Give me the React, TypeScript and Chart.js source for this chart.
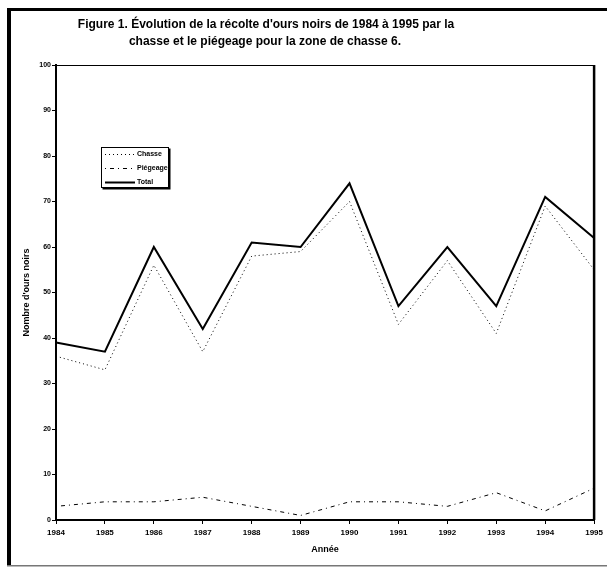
import React, { useEffect, useRef } from "react";
import { Chart, registerables } from "chart.js";

Chart.register(...registerables);

const years = ["1984", "1985", "1986", "1987", "1988", "1989", "1990", "1991", "1992", "1993", "1994", "1995"];
const chasse = [36, 33, 56, 37, 58, 59, 70, 43, 57, 41, 69, 55];
const piegeage = [3, 4, 4, 5, 3, 1, 4, 4, 3, 6, 2, 7];
const total = [39, 37, 60, 42, 61, 60, 74, 47, 60, 47, 71, 62];

const titleLines = [
  "Figure 1. Évolution de la récolte d'ours noirs de 1984 à 1995 par la",
  "chasse et le piégeage pour la zone de chasse 6.",
];
const yTitle = "Nombre d'ours noirs";
const xTitle = "Année";

const FONT = "'Liberation Sans', Arial, sans-serif";

const framePlugin = {
  id: "frame",
  afterDraw(chart: any) {
    const ctx = chart.ctx;
    const area = chart.chartArea;
    ctx.save();
    // outer scan frame
    ctx.fillStyle = "#000";
    ctx.fillRect(7, 8, 4, 558);
    ctx.fillRect(7, 8, 600, 3);
    ctx.fillStyle = "#777";
    ctx.fillRect(7, 565, 600, 1.5);
    // plot box top and right
    ctx.strokeStyle = "#000";
    ctx.lineWidth = 1.2;
    ctx.beginPath();
    ctx.moveTo(area.left, area.top + 0.5);
    ctx.lineTo(area.right, area.top + 0.5);
    ctx.stroke();
    ctx.lineWidth = 2.5;
    ctx.beginPath();
    ctx.moveTo(area.right, area.top);
    ctx.lineTo(area.right, area.bottom);
    ctx.stroke();
    // title
    ctx.fillStyle = "#000";
    ctx.font = "bold 12px " + FONT;
    ctx.textAlign = "center";
    ctx.textBaseline = "middle";
    ctx.fillText(titleLines[0], 266, 25);
    ctx.fillText(titleLines[1], 265, 42);
    // legend
    const bx = 101, by = 147, bw = 68, bh = 41;
    ctx.fillStyle = "#000";
    ctx.fillRect(bx + 1.5, by + 1.5, bw, bh);
    ctx.fillStyle = "#fff";
    ctx.fillRect(bx, by, bw, bh);
    ctx.strokeStyle = "#000";
    ctx.lineWidth = 1;
    ctx.strokeRect(bx + 0.5, by + 0.5, bw - 1, bh - 1);
    const ys = [154, 168, 182];
    chart.data.datasets.forEach((ds: any, i: number) => {
      const y = ys[i];
      ctx.save();
      ctx.strokeStyle = ds.borderColor;
      ctx.lineWidth = ds.borderWidth;
      ctx.setLineDash(ds.borderDash || []);
      ctx.beginPath();
      ctx.moveTo(bx + 4, y + 0.5);
      ctx.lineTo(bx + 34, y + 0.5);
      ctx.stroke();
      ctx.restore();
      ctx.fillStyle = "#000";
      ctx.font = "bold 7px " + FONT;
      ctx.textAlign = "left";
      ctx.textBaseline = "middle";
      ctx.fillText(ds.label, bx + 36, y);
    });
    ctx.restore();
  },
};

export default function App() {
  const ref = useRef<HTMLCanvasElement>(null);
  useEffect(() => {
    if (!ref.current) return;
    const chart = new Chart(ref.current, {
      type: "line",
      data: {
        labels: years,
        datasets: [
          {
            label: "Chasse",
            data: chasse,
            borderColor: "#000",
            borderWidth: 1,
            borderDash: [1, 3],
            pointRadius: 0,
            tension: 0,
            fill: false,
          },
          {
            label: "Piégeage",
            data: piegeage,
            borderColor: "#000",
            borderWidth: 1,
            borderDash: [1, 4, 4, 4],
            pointRadius: 0,
            tension: 0,
            fill: false,
          },
          {
            label: "Total",
            data: total,
            borderColor: "#000",
            borderWidth: 2,
            pointRadius: 0,
            tension: 0,
            fill: false,
          },
        ],
      },
      options: {
        animation: false,
        responsive: false,
        devicePixelRatio: 1,
        layout: { padding: { left: 0, right: 8, top: 65, bottom: 0 } },
        plugins: {
          legend: { display: false },
          title: { display: false },
          tooltip: { enabled: false },
        },
        scales: {
          x: {
            type: "category",
            offset: false,
            afterFit(scale: any) {
              scale.height = 48;
            },
            border: { display: true, color: "#000", width: 2 },
            grid: { display: true, drawOnChartArea: false, drawTicks: true, tickLength: 4, color: "#000", lineWidth: 1 },
            ticks: {
              color: "#000",
              font: { family: FONT, size: 8, weight: "bold" },
              padding: 4,
              maxRotation: 0,
              autoSkip: false,
            },
            title: {
              display: true,
              text: xTitle,
              color: "#000",
              font: { family: FONT, size: 9, weight: "bold" },
              padding: { top: 0, bottom: 13 },
            },
          },
          y: {
            min: 0,
            max: 100,
            afterFit(scale: any) {
              scale.width = 56;
            },
            border: { display: true, color: "#000", width: 2 },
            grid: { display: true, drawOnChartArea: false, drawTicks: true, tickLength: 4, color: "#000", lineWidth: 1 },
            ticks: {
              stepSize: 10,
              color: "#000",
              font: { family: FONT, size: 7, weight: "bold" },
              padding: 1,
            },
            title: {
              display: true,
              text: yTitle,
              color: "#000",
              font: { family: FONT, size: 9, weight: "bold" },
              padding: { top: 21, bottom: 0 },
            },
          },
        },
      },
      plugins: [framePlugin],
    });
    return () => chart.destroy();
  }, []);
  return (
    <div style={{ position: "fixed", left: 0, top: 0, width: 607, height: 568, background: "#fff" }}>
      <canvas ref={ref} width={607} height={568} style={{ width: 607, height: 568, display: "block" }} />
    </div>
  );
}
